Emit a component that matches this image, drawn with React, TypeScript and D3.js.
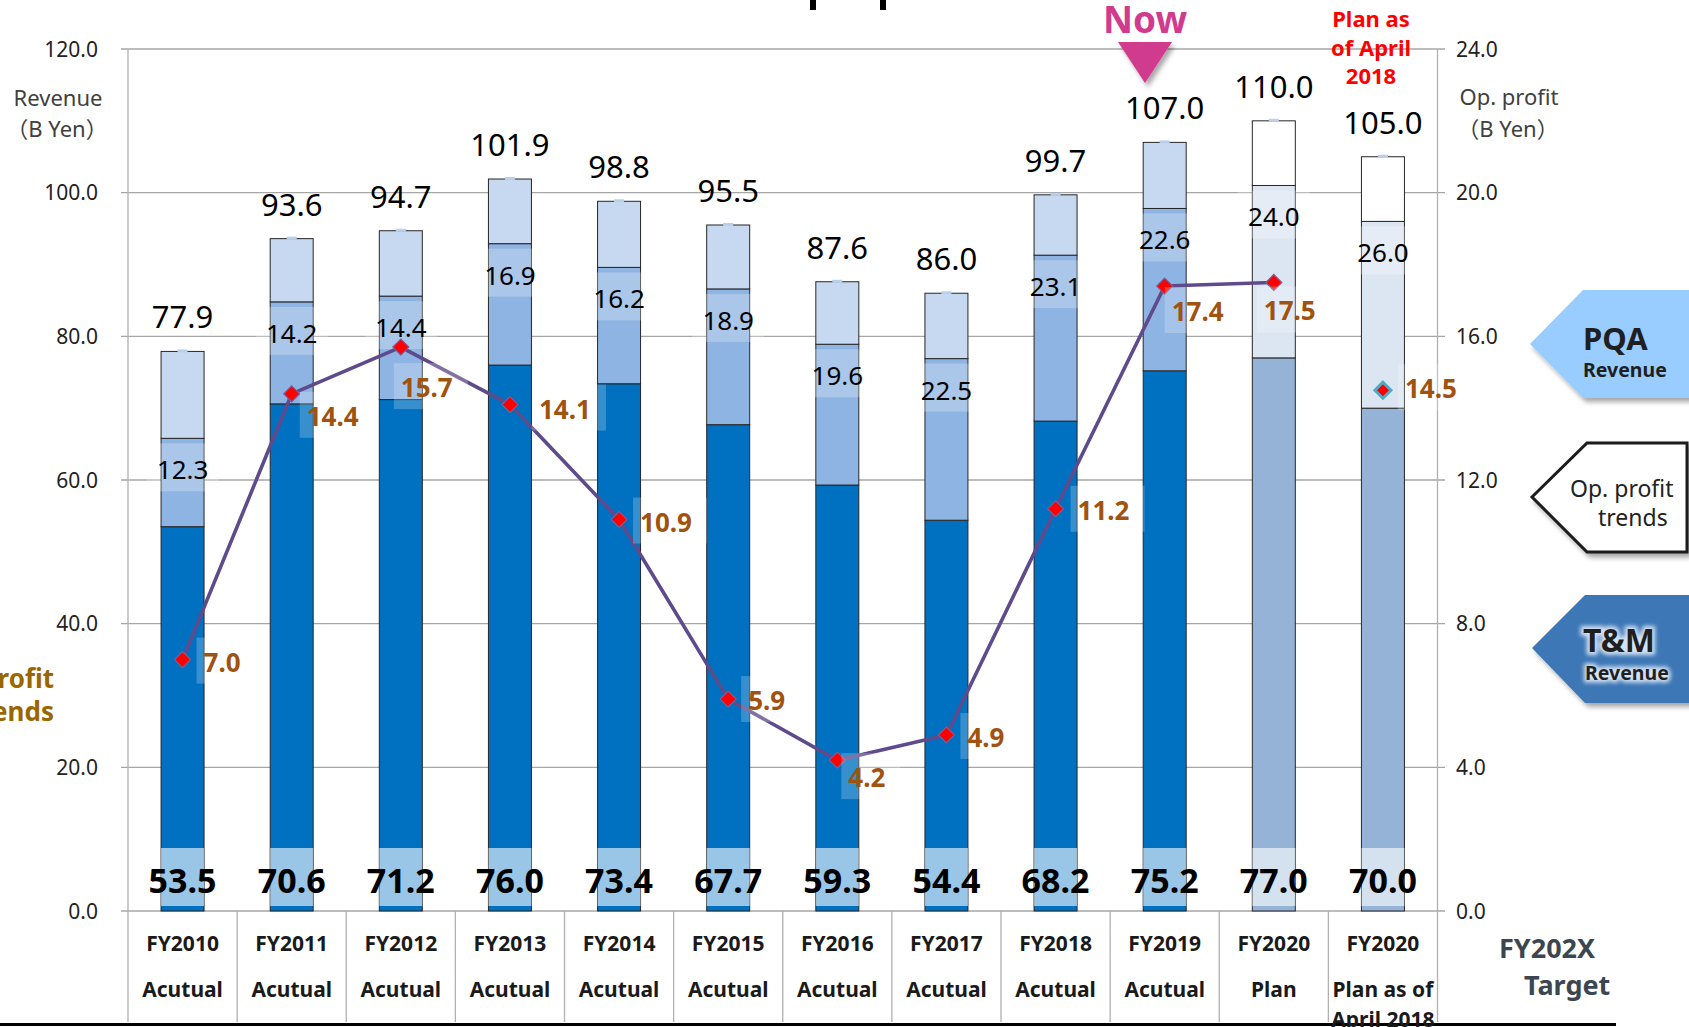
import React from 'react';
import * as d3 from 'd3';

const categories = ['FY2010', 'FY2011', 'FY2012', 'FY2013', 'FY2014', 'FY2015', 'FY2016', 'FY2017', 'FY2018', 'FY2019', 'FY2020', 'FY2020b'];
const categoryLine1 = ['FY2010', 'FY2011', 'FY2012', 'FY2013', 'FY2014', 'FY2015', 'FY2016', 'FY2017', 'FY2018', 'FY2019', 'FY2020', 'FY2020'];
const categoryLine2 = ['Acutual', 'Acutual', 'Acutual', 'Acutual', 'Acutual', 'Acutual', 'Acutual', 'Acutual', 'Acutual', 'Acutual', 'Plan', 'Plan as of'];
const categoryLine3 = ['', '', '', '', '', '', '', '', '', '', '', 'April 2018'];
const tmRevenue = [53.5, 70.6, 71.2, 76.0, 73.4, 67.7, 59.3, 54.4, 68.2, 75.2, 77.0, 70.0];
const pqaRevenue = [12.3, 14.2, 14.4, 16.9, 16.2, 18.9, 19.6, 22.5, 23.1, 22.6, 24.0, 26.0];
const totalRevenue = [77.9, 93.6, 94.7, 101.9, 98.8, 95.5, 87.6, 86.0, 99.7, 107.0, 110.0, 105.0];
const opProfit = [7.0, 14.4, 15.7, 14.1, 10.9, 5.9, 4.2, 4.9, 11.2, 17.4, 17.5, 14.5];
const isPlan = [false, false, false, false, false, false, false, false, false, false, true, true];
const onTrendLine = [true, true, true, true, true, true, true, true, true, true, true, false];
const revenueTicks = [0, 20, 40, 60, 80, 100, 120];
const profitTicks = [0, 4, 8, 12, 16, 20, 24];
// label nudges (layout only): [dx, dy] from marker to text start/baseline
const profitLabelNudge = [[21, 12], [15, 32], [0, 50], [29, 14], [21, 12], [20, 11], [11, 27], [21, 12], [22, 11], [7, 35], [-10, 38], [22, 8]];

const W = 1689;
const H = 1027;
const FONT = '"Noto Sans", "Noto Sans CJK JP", sans-serif';

export default function App() {
  const x = d3.scaleBand<string>().domain(categories).range([128, 1437.5]).paddingInner(0.606).paddingOuter(0.303);
  const yL = d3.scaleLinear().domain([0, 120]).range([911, 49]);
  const yR = d3.scaleLinear().domain([0, 24]).range([911, 49]);
  const bw = x.bandwidth();
  const step = x.step();
  const cx = (i: number) => (x(categories[i]) as number) + bw / 2;

  const colors = {
    tmA: '#0070c0', pqaA: '#8eb4e3', topA: '#c6d9f1',
    tmP: '#95b3d7', pqaP: '#dce6f2', topP: '#ffffff',
  };

  const lineIdx = categories.map((_, i) => i).filter((i) => onTrendLine[i]);
  const linePath = d3.line<number>().x((i) => cx(i)).y((i) => yR(opProfit[i]))(lineIdx) || '';

  const diamond = (px: number, py: number, r: number) => `M${px},${py - r}L${px + r},${py}L${px},${py + r}L${px - r},${py}Z`;

  const boundaries = d3.range(categories.length + 1).map((k) => 128 + k * step);

  return (
    <svg width={W} height={H} style={{ position: 'absolute', left: 0, top: 0, background: '#fff' }} fontFamily={FONT}>
      <defs>
        <filter id="shadow" x="-20%" y="-20%" width="150%" height="160%">
          <feDropShadow dx="3" dy="4" stdDeviation="2.5" floodColor="#000" floodOpacity="0.35" />
        </filter>
        <filter id="glow" x="-20%" y="-40%" width="140%" height="180%">
          <feGaussianBlur stdDeviation="2" />
        </filter>
      </defs>

      {/* cut-off title descenders */}
      <rect x={810} y={0} width={6} height={10} fill="#000" />
      <rect x={880} y={0} width={6} height={10} fill="#000" />

      {/* gridlines */}
      {revenueTicks.map((t) => (
        <line key={'g' + t} x1={121} x2={1445} y1={yL(t)} y2={yL(t)} stroke="#a6a6a6" strokeWidth={1.3} />
      ))}
      {/* axes / category separators */}
      {boundaries.map((bx, k) => (
        <line key={'b' + k} x1={bx} x2={bx} y1={k === 0 || k === categories.length ? 49 : 911} y2={1022} stroke="#b0b0b0" strokeWidth={1.3} />
      ))}

      {/* left tick labels */}
      {revenueTicks.map((t) => (
        <text key={'lt' + t} x={98} y={yL(t) + 7.5} textAnchor="end" fontSize={21} fill="#222">{t.toFixed(1)}</text>
      ))}
      {profitTicks.map((t) => (
        <text key={'rt' + t} x={1456} y={yR(t) + 7.5} textAnchor="start" fontSize={21} fill="#222">{t.toFixed(1)}</text>
      ))}

      {/* axis titles */}
      <text x={58} y={106} textAnchor="middle" fontSize={22} fill="#404040">Revenue</text>
      <text x={57} y={137} textAnchor="middle" fontSize={22} fill="#404040">（B Yen）</text>
      <text x={1509} y={105} textAnchor="middle" fontSize={22} fill="#404040">Op. profit</text>
      <text x={1508} y={137} textAnchor="middle" fontSize={22} fill="#404040">（B Yen）</text>

      {/* clipped left text */}
      <text x={54} y={688} textAnchor="end" fontSize={26} fontWeight="bold" fill="#996600">Op. profit</text>
      <text x={54} y={721} textAnchor="end" fontSize={26} fontWeight="bold" fill="#996600">trends</text>

      {/* bars */}
      {categories.map((c, i) => {
        const x0 = x(c) as number;
        const plan = isPlan[i];
        const tm = tmRevenue[i];
        const pqa = pqaRevenue[i];
        const tot = totalRevenue[i];
        const yTm = yL(tm);
        const yMid = yL(tm + pqa);
        const yTop = yL(tot);
        return (
          <g key={'bar' + c}>
            <rect x={x0} y={yTm} width={bw} height={yL(0) - yTm} fill={plan ? colors.tmP : colors.tmA} stroke="#262626" strokeWidth={1} />
            <rect x={x0} y={yMid} width={bw} height={yTm - yMid} fill={plan ? colors.pqaP : colors.pqaA} stroke="#262626" strokeWidth={1} />
            <rect x={x0} y={yTop} width={bw} height={yMid - yTop} fill={plan ? colors.topP : colors.topA} stroke="#262626" strokeWidth={1} />
            <rect x={x0 + bw / 2 - 5} y={yTop - 2} width={10} height={3} fill="#b9d0ec" />
          </g>
        );
      })}

      {/* bottom label bands & labels */}
      {categories.map((c, i) => {
        const x0 = x(c) as number;
        return (
          <g key={'bl' + c}>
            <rect x={x0} y={848} width={bw} height={58} fill="#fff" opacity={0.6} />
            <text x={cx(i)} y={893} textAnchor="middle" fontSize={34} fontWeight="bold" fill="#000">{tmRevenue[i].toFixed(1)}</text>
          </g>
        );
      })}

      {/* mid labels */}
      {categories.map((c, i) => {
        const yMid = yL(tmRevenue[i] + pqaRevenue[i]);
        return (
          <g key={'ml' + c}>
            <rect x={cx(i) - 36} y={yMid + 5} width={72} height={48} fill="#fff" opacity={0.25} />
            <text x={cx(i)} y={yMid + 41} textAnchor="middle" fontSize={26} fill="#000">{pqaRevenue[i].toFixed(1)}</text>
          </g>
        );
      })}

      {/* total labels */}
      {categories.map((c, i) => (
        <text key={'tl' + c} x={cx(i)} y={yL(totalRevenue[i]) - 23} textAnchor="middle" fontSize={31} fill="#000">{totalRevenue[i].toFixed(1)}</text>
      ))}

      {/* op profit line */}
      <path d={linePath} fill="none" stroke="#5f4b8b" strokeWidth={3.6} strokeLinejoin="round" />
      {categories.map((c, i) => {
        const px = cx(i);
        const py = yR(opProfit[i]);
        return onTrendLine[i] ? (
          <path key={'mk' + c} d={diamond(px, py, 8)} fill="#ff0000" stroke="#7a5f9a" strokeWidth={1.2} />
        ) : (
          <path key={'mk' + c} d={diamond(px, py, 8)} fill="#ff0000" stroke="#4bacc6" strokeWidth={3} />
        );
      })}
      {categories.map((c, i) => {
        const px = cx(i) + profitLabelNudge[i][0];
        const py = yR(opProfit[i]) + profitLabelNudge[i][1];
        const label = opProfit[i].toFixed(1);
        return (
          <g key={'pl' + c}>
            <rect x={px - 7} y={py - 34} width={label.length * 15 + 14} height={46} fill="#fff" opacity={0.22} />
            <text x={px} y={py} fontSize={26} fontWeight="bold" fill="#a0520f">{label}</text>
          </g>
        );
      })}

      {/* category labels */}
      {categories.map((c, i) => (
        <g key={'cl' + c}>
          <text x={cx(i)} y={951} textAnchor="middle" fontSize={21} fontWeight="bold" fill="#1a1a1a">{categoryLine1[i]}</text>
          <text x={cx(i)} y={997} textAnchor="middle" fontSize={21} fontWeight="bold" fill="#1a1a1a">{categoryLine2[i]}</text>
        </g>
      ))}
      <line x1={0} x2={1616} y1={1024.5} y2={1024.5} stroke="#000" strokeWidth={3} />
      {categories.map((c, i) => categoryLine3[i] ? (
        <text key={'c3' + c} x={cx(i)} y={1027} textAnchor="middle" fontSize={21} fontWeight="bold" fill="#1a1a1a">{categoryLine3[i]}</text>
      ) : null)}

      <text x={1499} y={958} fontSize={27} fontWeight="bold" fill="#3c4650">FY202X</text>
      <text x={1524} y={995} fontSize={27} fontWeight="bold" fill="#3c4650">Target</text>

      {/* Now marker */}
      <text x={1145} y={33} textAnchor="middle" fontSize={37} fontWeight="bold" fill="#d13b8e">Now</text>
      <path d="M1118,42L1172,42L1145,83Z" fill="#d13b8e" filter="url(#shadow)" />

      {/* Plan as of April 2018 */}
      <text x={1371} y={27} textAnchor="middle" fontSize={22} fontWeight="bold" fill="#ff0000">Plan as</text>
      <text x={1371} y={56} textAnchor="middle" fontSize={22} fontWeight="bold" fill="#ff0000">of April</text>
      <text x={1371} y={84} textAnchor="middle" fontSize={22} fontWeight="bold" fill="#ff0000">2018</text>

      {/* right-side arrows */}
      <path d="M1530,344L1583,290L1695,290L1695,398L1583,398Z" fill="#99ccff" filter="url(#shadow)" />
      <text x={1583} y={350} fontSize={31} fontWeight="bold" fill="#1f1f1f">PQA</text>
      <text x={1583} y={377} fontSize={19.5} fontWeight="bold" fill="#1f1f1f">Revenue</text>

      <path d="M1532,497L1587,443L1687,443L1687,552L1587,552Z" fill="#fff" stroke="#1a1a1a" strokeWidth={3} strokeLinejoin="miter" filter="url(#shadow)" />
      <text x={1570} y={497} fontSize={23} fill="#222">Op. profit</text>
      <text x={1598} y={526} fontSize={23} fill="#222">trends</text>

      <path d="M1532,648L1585,595L1695,595L1695,703L1585,703Z" fill="#3d77b5" filter="url(#shadow)" />
      <g filter="url(#glow)">
        <text x={1583} y={652} fontSize={32} fontWeight="bold" fill="#d5e3f5" stroke="#d5e3f5" strokeWidth={6}>T&amp;M</text>
        <text x={1585} y={680} fontSize={19.5} fontWeight="bold" fill="#d5e3f5" stroke="#d5e3f5" strokeWidth={5}>Revenue</text>
      </g>
      <text x={1583} y={652} fontSize={32} fontWeight="bold" fill="#1f1f1f">T&amp;M</text>
      <text x={1585} y={680} fontSize={19.5} fontWeight="bold" fill="#1f1f1f">Revenue</text>
    </svg>
  );
}
